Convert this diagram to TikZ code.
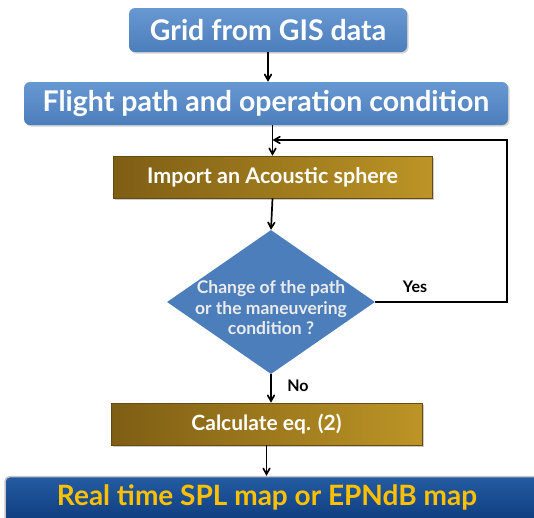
\documentclass[tikz,border=0pt]{standalone}
\usepackage{fontspec}
\setmainfont{Lato}
\usetikzlibrary{arrows,positioning,shapes.geometric,shadows}
\definecolor{boxblue}{RGB}{76,126,188}
\definecolor{boxbluetop}{RGB}{104,152,210}
\definecolor{golddark}{RGB}{126,94,20}
\definecolor{goldlight}{RGB}{188,148,38}
\definecolor{navytop}{RGB}{36,92,162}
\definecolor{navybot}{RGB}{14,60,125}
\definecolor{mapyellow}{RGB}{255,192,0}
\tikzset{
  bluebox/.style={rounded corners=6pt,top color=boxbluetop,bottom color=boxblue,
    draw=none,text=white,font=\bfseries\fontsize{28.5}{32}\selectfont,inner sep=0pt,
    drop shadow={shadow xshift=1.5pt,shadow yshift=-1.5pt,opacity=0.35}},
  goldbox/.style={left color=golddark,right color=goldlight,draw=golddark!80!black,
    line width=0.6pt,text=white,font=\bfseries\fontsize{21.5}{25}\selectfont,inner sep=0pt,
    minimum height=42pt,
    drop shadow={shadow xshift=1.5pt,shadow yshift=-1.5pt,opacity=0.4}},
  decision/.style={diamond,fill=boxblue,draw=none,inner sep=0pt,
    minimum width=208pt,minimum height=144pt},
  dlabel/.style={text=white!92!black,font=\bfseries\fontsize{17.5}{20.5}\selectfont,
    align=center,inner sep=0pt,yshift=-6pt},
  flow/.style={->,>=angle 60,line width=1.7pt,black},
  answer/.style={font=\bfseries\fontsize{16}{19}\selectfont,inner sep=0pt}
}
\newcommand{\Arrow}[2]% from, to
{\draw[flow] (#1) -- (#2);}
\begin{document}
\begin{tikzpicture}[x=1pt,y=-1pt]
  \useasboundingbox (0,0) rectangle (534,517);
  \node[bluebox,minimum width=278pt,minimum height=44pt]
    (grid) at (268,30) {Grid from GIS data};
  \node[bluebox,minimum width=484pt,minimum height=43pt]
    (flight) at (266,103.5) {Flight path and operation condition};
  \node[goldbox,minimum width=319pt] (import) at (272.5,177) {Import an Acoustic sphere};
  \node[decision,label={[dlabel]center:{Change of the path\\or the maneuvering\\condition ?}}]
    (change) at (271,302) {};
  \node[goldbox,minimum width=311pt,font=\bfseries\fontsize{21}{25}\selectfont]
    (calc) at (266.5,424) {Calculate eq. (2)};
  \node[rounded corners=5pt,top color=navytop,bottom color=navybot,draw=gray!45,line width=1.5pt,
    minimum width=540pt,minimum height=46pt,inner sep=0pt] (map) at (275,499.5) {};
  \node[text=mapyellow,font=\bfseries\fontsize{28}{32}\selectfont,inner sep=0pt]
    (maptext) at (267,497) {Real time SPL map or EPNdB map};
  \coordinate (corner) at (507,140);
  % arrows
  \Arrow{grid.south}{grid.south |- flight.north}
  \Arrow{import.north |- flight.south}{import.north}
  \Arrow{import.south}{change.north}
  \Arrow{change.south}{change.south |- calc.north}
  \Arrow{calc.south}{calc.south |- map.north}
  \draw[flow] (change.east) -| (corner) -- (import.north |- corner);
  \node[answer] (yes) at (415,287) {Yes};
  \node[answer] (no) at (298,386) {No};
\end{tikzpicture}
\end{document}
